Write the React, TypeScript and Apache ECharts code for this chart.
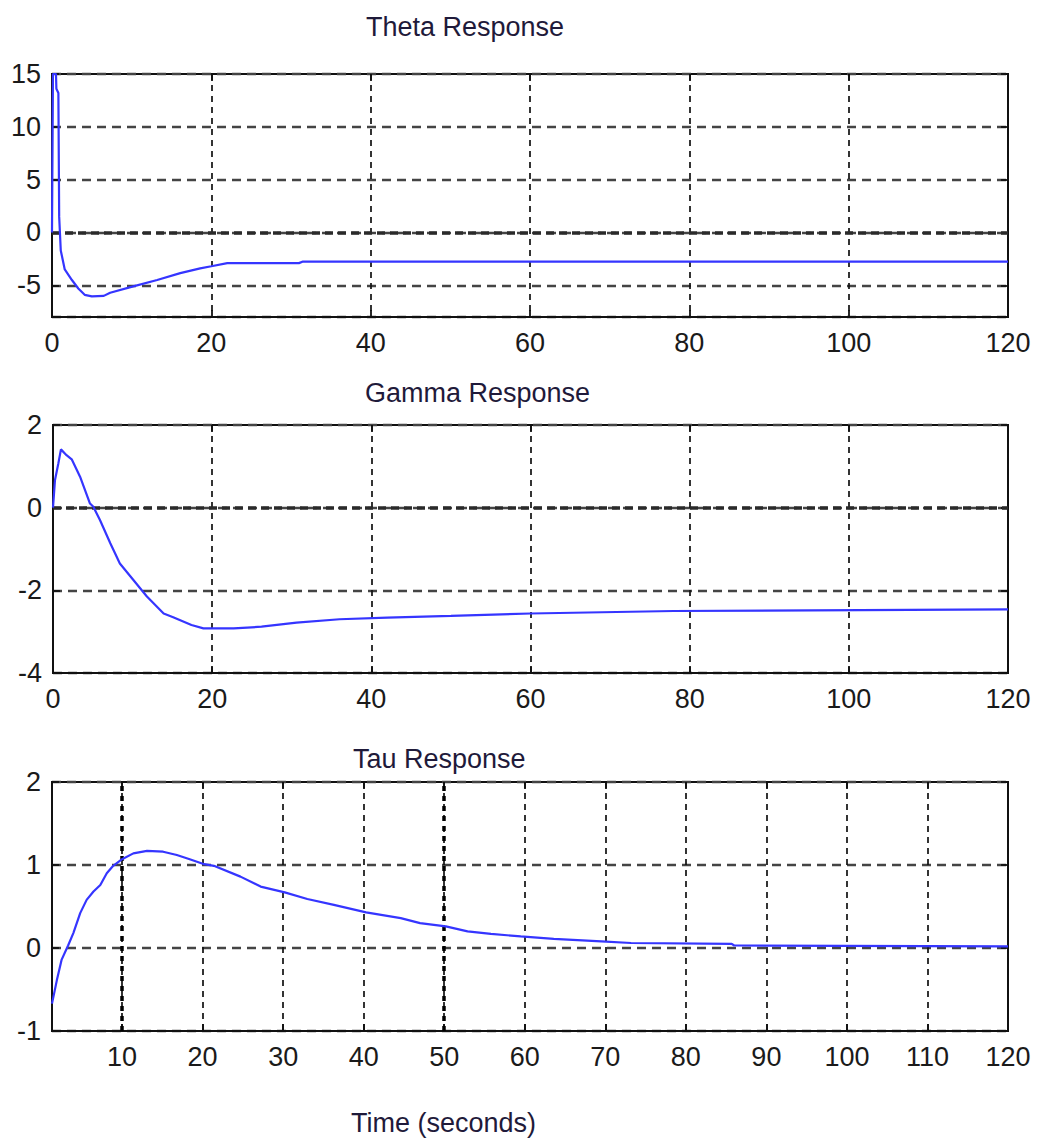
import React, { useEffect, useRef } from "react";
import * as echarts from "echarts";

// ---- Data ----
const thetaTime = [0, 0.12, 0.5, 0.55, 0.8, 0.9, 1.1, 1.6, 2.5, 3.3, 4.1, 5, 6.5, 7.3, 10.2, 13.2, 16.1, 18.6, 20, 22, 31, 31.5, 45, 120];
const thetaValue = [0, 15, 15, 13.6, 13.2, 1.5, -1.7, -3.5, -4.5, -5.3, -5.9, -6.05, -6.0, -5.7, -5.1, -4.5, -3.85, -3.4, -3.2, -2.9, -2.9, -2.75, -2.75, -2.76];

const gammaTime = [0, 0.25, 0.67, 1.0, 1.7, 2.35, 3.4, 4.65, 5.07, 5.9, 7.2, 8.4, 10.1, 11.8, 13.9, 15.1, 17.4, 18.9, 22.7, 26.2, 30.6, 36, 42, 50, 60, 78, 120];
const gammaValue = [0, 0.67, 1.07, 1.41, 1.27, 1.17, 0.75, 0.1, 0.02, -0.3, -0.86, -1.35, -1.75, -2.15, -2.56, -2.65, -2.84, -2.92, -2.92, -2.88, -2.78, -2.7, -2.66, -2.62, -2.56, -2.5, -2.46];

const tauTime = [1.3, 1.9, 2.5, 3.3, 3.95, 4.8, 5.6, 6.45, 7.3, 8.1, 8.9, 10, 11.4, 13.1, 15.1, 16.8, 18.4, 20.2, 21.4, 24.7, 27.2, 30.2, 33, 36.3, 40.3, 44.6, 47, 50.2, 52.9, 55.8, 59.5, 63.6, 69.5, 73.2, 85.7, 86, 120];
const tauValue = [-0.67, -0.39, -0.14, 0.03, 0.18, 0.42, 0.58, 0.68, 0.76, 0.9, 0.99, 1.07, 1.14, 1.17, 1.16, 1.12, 1.07, 1.01, 0.99, 0.86, 0.74, 0.67, 0.59, 0.52, 0.43, 0.36, 0.3, 0.26, 0.2, 0.17, 0.14, 0.11, 0.08, 0.06, 0.05, 0.03, 0.02];

const titles = ["Theta Response", "Gamma Response", "Tau Response"];
const xLabelText = "Time (seconds)";

// ---- Styling ----
const FONT = "Liberation Sans, Arial, sans-serif";
const TEXT_COLOR = "#1a1a1a";
const TITLE_COLOR = "#1f1a3a";
const LINE_COLOR = "#3535ff";

const zip = (a: number[], b: number[]) => a.map((t, i) => [t, b[i]]);

export default function App() {
  const ref = useRef<HTMLDivElement>(null);

  useEffect(() => {
    const chart = echarts.init(ref.current!, null, { renderer: "svg" });

    const grids = [
      { left: 52, top: 74, width: 956, height: 243 },
      { left: 53, top: 425, width: 955, height: 248 },
      { left: 52, top: 782, width: 956, height: 249 },
    ].map((g) => ({
      ...g,
      show: true,
      borderColor: "#111",
      borderWidth: 2,
      backgroundColor: "#fff",
    }));

    const xRanges = [
      { min: 0, max: 120, interval: 20 },
      { min: 0, max: 120, interval: 20 },
      { min: 1.3, max: 120, splitNumber: 12 },
    ];
    const yRanges = [
      { min: -8, max: 15, splitNumber: 5 },
      { min: -4, max: 2, interval: 2 },
      { min: -1, max: 2, interval: 1 },
    ];

    const xSplit = { show: true, lineStyle: { color: "#111", type: [6, 5], width: 1.7 } };
    const ySplit = { show: true, lineStyle: { color: "#444", type: [9, 6], width: 2.4 } };
    const tick = { show: true, inside: true, length: 7, lineStyle: { color: "#111", width: 1.8 } };

    const xAxis: any[] = [];
    const yAxis: any[] = [];
    for (let i = 0; i < 3; i++) {
      xAxis.push({
        type: "value",
        gridIndex: i,
        position: "bottom",
        ...xRanges[i],
        axisLine: { show: true, onZero: false, lineStyle: { color: "#111", width: 2 } },
        axisTick: tick,
        axisLabel: {
          color: TEXT_COLOR,
          fontSize: 27,
          fontFamily: FONT,
          margin: 12,
          showMinLabel: i === 2 ? false : true,
        },
        splitLine: xSplit,
      });
      xAxis.push({
        type: "value",
        gridIndex: i,
        position: "top",
        ...xRanges[i],
        axisLine: { show: false, onZero: false },
        axisTick: tick,
        axisLabel: { show: false },
        splitLine: { show: false },
      });
      yAxis.push({
        type: "value",
        gridIndex: i,
        position: "left",
        ...yRanges[i],
        axisLine: { show: true, onZero: false, lineStyle: { color: "#111", width: 2 } },
        axisTick: tick,
        axisLabel: {
          color: TEXT_COLOR,
          fontSize: 27,
          fontFamily: FONT,
          margin: 11,
          showMinLabel: i === 0 ? false : true,
        },
        splitLine: ySplit,
      });
      yAxis.push({
        type: "value",
        gridIndex: i,
        position: "right",
        ...yRanges[i],
        axisLine: { show: false, onZero: false },
        axisTick: tick,
        axisLabel: { show: false },
        splitLine: { show: false },
      });
    }

    const datasets = [zip(thetaTime, thetaValue), zip(gammaTime, gammaValue), zip(tauTime, tauValue)];
    const boldMarks: any[] = [
      [{ yAxis: 0 }],
      [{ yAxis: 0 }],
      [{ xAxis: 10 }, { xAxis: 50 }],
    ];
    const boldStyles = [
      { color: "#2a2a2a", width: 3.5, type: [8, 5] },
      { color: "#2a2a2a", width: 3.5, type: [8, 5] },
      { color: "#000", width: 3.5, type: [5, 5] },
    ];

    const series = datasets.map((d, i) => ({
      type: "line",
      name: titles[i],
      xAxisIndex: 2 * i,
      yAxisIndex: 2 * i,
      data: d,
      showSymbol: false,
      symbol: "none",
      lineStyle: { color: LINE_COLOR, width: 2.2 },
      z: 5,
      markLine: {
        silent: true,
        symbol: "none",
        label: { show: false },
        lineStyle: boldStyles[i],
        data: boldMarks[i],
        z: 3,
      },
    }));

    const titleStyle = { color: TITLE_COLOR, fontSize: 27, fontWeight: "normal", fontFamily: FONT };
    const title = [
      { text: titles[0], left: 366, top: 13, padding: 0, textStyle: titleStyle },
      { text: titles[1], left: 365, top: 379, padding: 0, textStyle: titleStyle },
      { text: titles[2], left: 353, top: 745, padding: 0, textStyle: titleStyle },
      { text: xLabelText, left: 351, top: 1109, padding: 0, textStyle: titleStyle },
    ];

    chart.setOption({
      animation: false,
      backgroundColor: "#fff",
      title,
      grid: grids,
      xAxis,
      yAxis,
      series,
    });

    return () => chart.dispose();
  }, []);

  return (
    <div
      ref={ref}
      style={{ position: "absolute", left: 0, top: 0, width: 1037, height: 1141, background: "#fff" }}
    />
  );
}
